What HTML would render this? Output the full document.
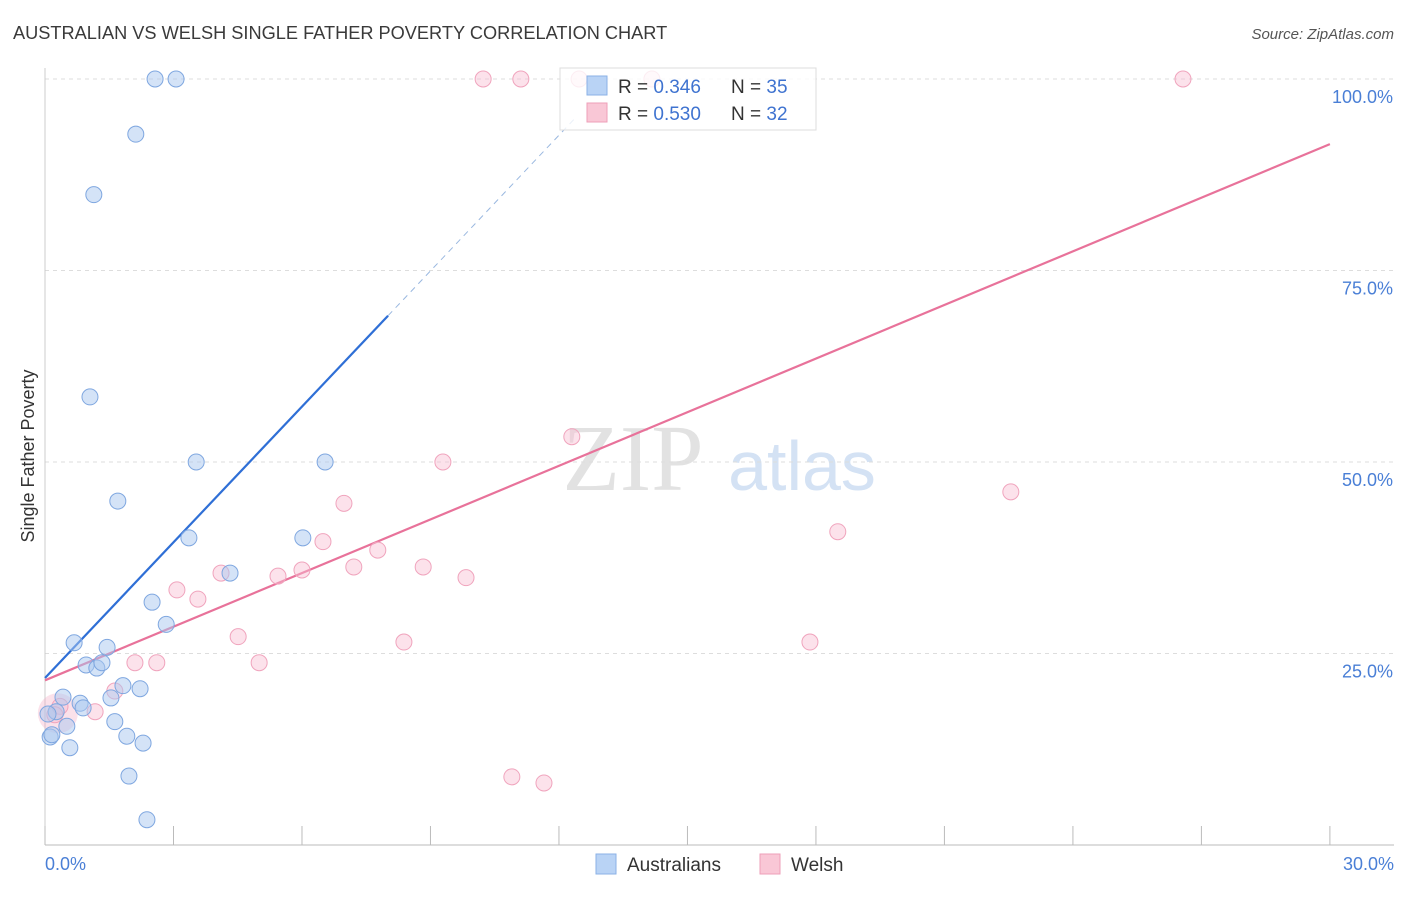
<!DOCTYPE html>
<html><head><meta charset="utf-8"><style>
body{margin:0;background:#fff;font-family:"Liberation Sans",sans-serif}
svg text{font-family:"Liberation Sans",sans-serif}
</style></head><body>
<svg id="chart" width="1406" height="892" viewBox="0 0 1406 892">
<text x="13" y="39" font-size="18.2" fill="#3a3a3a">AUSTRALIAN VS WELSH SINGLE FATHER POVERTY CORRELATION CHART</text>
<text x="1394" y="39" font-size="15" fill="#555" text-anchor="end" font-style="italic">Source: ZipAtlas.com</text>
<g>
<text x="633" y="490" font-size="94" fill="#e2e2e2" text-anchor="middle" font-family="Liberation Serif" style="font-family:'Liberation Serif',serif">ZIP</text>
<text x="802" y="490" font-size="70" fill="#d4e2f4" text-anchor="middle">atlas</text>
</g>
<g id="grid"></g><g id="axes"></g><g id="lines"></g><g id="pts"></g>
<g>
<rect x="560" y="68" width="256" height="62" fill="#fff" fill-opacity="0.8" stroke="#ddd"/>
<rect x="587" y="76" width="20" height="19" fill="#b9d3f5" stroke="#8bb1e6"/>
<text x="618" y="93" font-size="19" fill="#333">R = <tspan fill="#3f73d0">0.346</tspan></text>
<text x="731" y="93" font-size="19" fill="#333">N = <tspan fill="#3f73d0">35</tspan></text>
<rect x="587" y="103" width="20" height="19" fill="#f9c7d6" stroke="#ee9fb8"/>
<text x="618" y="120" font-size="19" fill="#333">R = <tspan fill="#3f73d0">0.530</tspan></text>
<text x="731" y="120" font-size="19" fill="#333">N = <tspan fill="#3f73d0">32</tspan></text>
</g>
<g>
<rect x="596" y="854" width="20" height="20" fill="#b9d3f5" stroke="#8bb1e6"/>
<text x="627" y="871" font-size="19" fill="#333">Australians</text>
<rect x="760" y="854" width="20" height="20" fill="#f9c7d6" stroke="#ee9fb8"/>
<text x="791" y="871" font-size="19" fill="#333">Welsh</text>
</g>
<text transform="translate(34,456) rotate(-90)" font-size="18" fill="#333" text-anchor="middle">Single Father Poverty</text>
</svg>
<script>
const yTicks=[25,50,75,100];
const yTickLabels=["25.0%","50.0%","75.0%","100.0%"];
const blueX=[2.57,3.06,2.12,1.14,1.05,3.53,6.54,1.70,3.36,6.02,4.32,2.50,2.83,0.68,1.45,0.96,1.21,1.33,1.82,2.22,1.54,0.42,0.82,0.89,0.26,0.07,0.51,1.63,1.91,2.29,0.58,0.12,0.16,1.96,2.38];
const blueY=[100,100,92.8,84.9,58.5,50,50,44.9,40.1,40.1,35.5,31.7,28.8,26.4,25.8,23.5,23.1,23.8,20.8,20.4,19.2,19.3,18.5,17.9,17.4,17.1,15.5,16.1,14.2,13.3,12.7,14.1,14.4,9.0,3.3];
const pinkX=[10.23,11.11,12.47,14.17,26.57,12.30,9.29,22.55,6.98,18.51,6.49,7.77,4.11,5.44,6.00,7.21,8.83,9.83,3.08,3.57,4.51,8.38,17.86,5.00,2.61,2.10,1.63,1.17,0.35,0.23,10.90,11.65];
const pinkY=[100,100,100,100,100,53.3,50,46.1,44.6,40.9,39.6,38.5,35.5,35.1,35.9,36.3,36.3,34.9,33.3,32.1,27.2,26.5,26.5,23.8,23.8,23.8,20.1,17.4,18.1,17.0,8.9,8.1];
const blueFit=[21.8,69.1];
const blueFitEnd=8.01, blueDashEnd=12.4;
const pinkFit=[21.5,91.5];
const NS="http://www.w3.org/2000/svg";
const X=v=>45+v*42.83, Y=v=>845-v*7.66;
function mk(tag,at,parent){const e=document.createElementNS(NS,tag);for(const k in at)e.setAttribute(k,at[k]);document.getElementById(parent).appendChild(e);return e;}
yTicks.forEach((t,i)=>{
 const g=mk('line',{x1:45,x2:1394,y1:Y(t),y2:Y(t),stroke:'#ddd','stroke-dasharray':'4,4'},'grid');
 
 
 const l=mk('text',{x:1393,y:Y(t)+24,'font-size':18,fill:'#4a7fd6','text-anchor':'end'},'grid');
 l.textContent=yTickLabels[i];
 
 
});
const ax=mk('line',{x1:45,x2:1394,y1:845,y2:845,stroke:'#bbb'},'axes');


const ay=mk('line',{x1:45,x2:45,y1:68,y2:845,stroke:'#ccc'},'axes');


for(let i=0;i<=10;i++){const t=mk('line',{x1:X(i*3),x2:X(i*3),y1:826,y2:845,stroke:'#bbb'},'axes');
 
 }
const x0=mk('text',{x:45,y:870,'font-size':18,fill:'#4a7fd6'},'axes');x0.textContent='0.0%';


const x1=mk('text',{x:1394,y:870,'font-size':18,fill:'#4a7fd6','text-anchor':'end'},'axes');x1.textContent='30.0%';


const blob=mk('circle',{cx:X(0.3),cy:Y(17.2),r:20,fill:'rgba(244,170,195,0.35)'},'pts');


pinkX.forEach((x,i)=>{const c=mk('circle',{cx:X(x),cy:Y(pinkY[i]),r:8,fill:'rgba(249,190,210,0.45)',stroke:'#f0a4bd','stroke-width':1},'pts');
 
 });
blueX.forEach((x,i)=>{const c=mk('circle',{cx:X(x),cy:Y(blueY[i]),r:8,fill:'rgba(170,200,240,0.5)',stroke:'#7fa7e0','stroke-width':1},'pts');
 
 });
const bs=(blueFit[1]-blueFit[0])/blueFitEnd;
const bl=mk('line',{x1:X(0),y1:Y(blueFit[0]),x2:X(blueFitEnd),y2:Y(blueFit[1]),stroke:'#2f6fd6','stroke-width':2.2},'lines');


const bd=mk('line',{x1:X(blueFitEnd),y1:Y(blueFit[1]),x2:X(blueDashEnd),y2:Y(blueFit[0]+bs*blueDashEnd),stroke:'#9ab8e0','stroke-width':1,'stroke-dasharray':'6,5'},'lines');


const pl=mk('line',{x1:X(0),y1:Y(pinkFit[0]),x2:X(30),y2:Y(pinkFit[1]),stroke:'#e8729a','stroke-width':2.2},'lines');


</script>
</body></html>
